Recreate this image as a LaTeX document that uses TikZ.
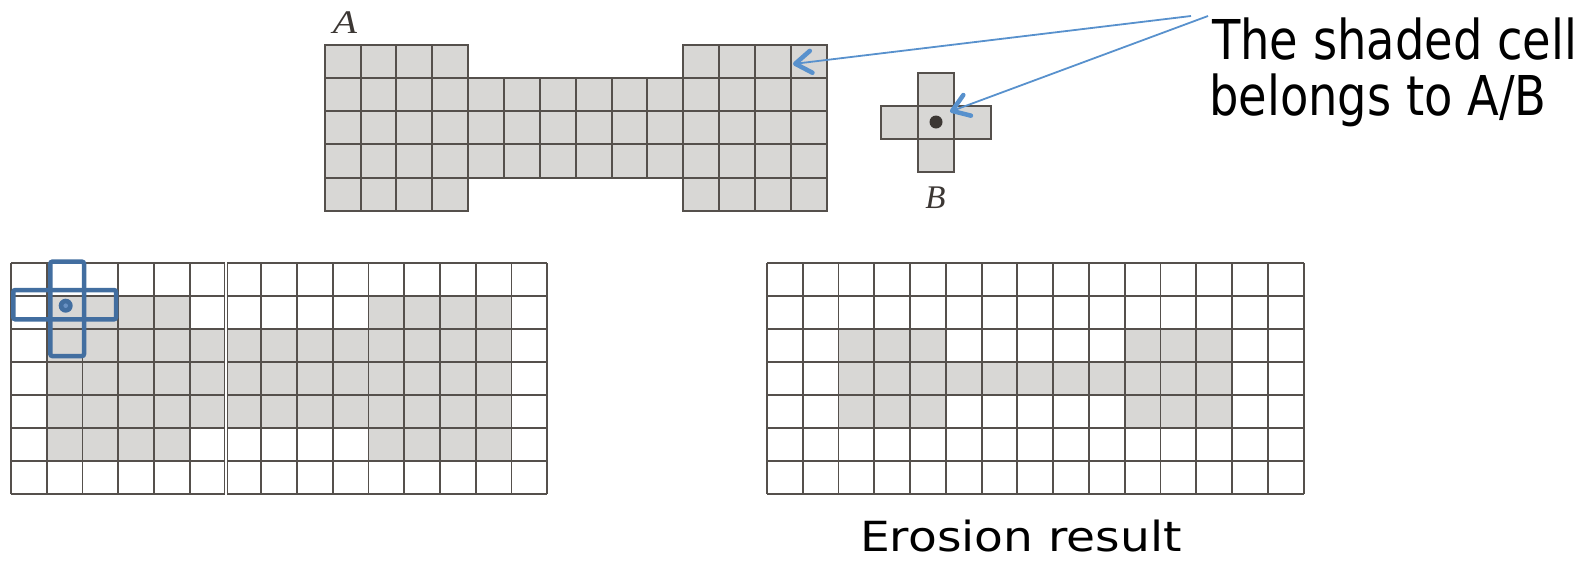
\documentclass[tikz,border=0pt]{standalone}
\usepackage{fontspec}
\usetikzlibrary{arrows.meta}
\newfontfamily\slidefont{DejaVu Sans}
\newfontfamily\labelfont{Liberation Serif}
\definecolor{gridline}{RGB}{85,80,76}
\definecolor{cellfill}{RGB}{216,215,213}
\definecolor{seblue}{RGB}{66,110,160}
\definecolor{seinner}{RGB}{105,145,195}
\definecolor{arrowblue}{RGB}{88,145,205}
\definecolor{textdark}{RGB}{60,55,52}
\begin{document}
\begin{tikzpicture}[x=1pt,y=-1pt,
  acell/.style={draw=gridline,line width=1.9pt,fill=cellfill},
  gridl/.style={draw=gridline,line width=1.9pt},
  shade/.style={fill=cellfill},
  selem/.style={draw=seblue,line width=4.5pt,rounded corners=2pt},
  callout/.style={draw=arrowblue,line width=1.8pt,
    -{Straight Barb[length=16pt,width=22pt,line width=4.5pt 0,round]}},
  slabel/.style={anchor=base,inner sep=0pt,text=textdark,
    font=\labelfont\itshape\fontsize{33}{33}\selectfont},
  slidetext/.style={anchor=base west,inner sep=0pt,text=black}]
\useasboundingbox (0,0) rectangle (1583,563);

% ---------- set A ----------
\def\Ax{324.7}\def\Ay{45}\def\Aw{35.86}\def\Ah{33.14}
\foreach \c in {0,1,2,3,10,11,12,13}
  \foreach \r in {0,...,4}
    \draw[acell] ({\Ax+\c*\Aw},{\Ay+\r*\Ah}) rectangle ++(\Aw,\Ah);
\foreach \c in {4,...,9}
  \foreach \r in {1,2,3}
    \draw[acell] ({\Ax+\c*\Aw},{\Ay+\r*\Ah}) rectangle ++(\Aw,\Ah);
\node[slabel] (labA) at (345,33.3) {\scalebox{1.2}[1]{A}};

% ---------- structuring element B ----------
\def\Bx{917.7}\def\By{106}\def\Bw{36.5}\def\Bh{33.2}
\foreach \dc/\dr in {0/-1,-1/0,0/0,1/0,0/1}
  \draw[acell] ({\Bx+\dc*\Bw},{\By+\dr*\Bh}) rectangle ++(\Bw,\Bh);
\fill[textdark] (936,122) circle (6.5pt);
\node[slabel] (labB) at (935.5,208) {B};

% ---------- left grid: A with B placed ----------
\def\Lx{11}\def\Ly{263.3}\def\Lw{35.75}\def\Lh{32.96}
\foreach \r in {1,5}
  \foreach \c in {1,2,3,4,10,11,12,13}
    \fill[shade] ({\Lx+\c*\Lw},{\Ly+\r*\Lh}) rectangle ++(\Lw,\Lh);
\foreach \r in {2,3,4}
  \foreach \c in {1,...,13}
    \fill[shade] ({\Lx+\c*\Lw},{\Ly+\r*\Lh}) rectangle ++(\Lw,\Lh);
\foreach \j in {0,...,7}
  \draw[gridl] ({\Lx},{\Ly+\j*\Lh}) -- ++({15*\Lw},0);
\foreach \i in {0,1,2,3,4,5,7,8,9,10,11,12,13,14,15}
  \draw[gridl] ({\Lx+\i*\Lw},{\Ly}) -- ++(0,{7*\Lh});
\draw[white,line width=1.1pt] (226,{\Ly-1}) -- (226,{\Ly+7*\Lh+1});
\draw[gridline,line width=1.3pt] (224.6,{\Ly}) -- (224.6,{\Ly+7*\Lh});
\draw[gridline,line width=1.3pt] (227.5,{\Ly}) -- (227.5,{\Ly+7*\Lh});
% blue structuring element
\draw[selem] (50.3,261.7) rectangle (84,356);
\draw[selem] (13.3,290) rectangle (116,319.3);
\fill[seblue] (65.7,305.7) circle (7pt);
\fill[seinner] (65.7,305.7) circle (2.3pt);

% ---------- right grid: erosion result ----------
\def\Rx{767}\def\Ry{263.3}\def\Rw{35.77}\def\Rh{32.96}
\foreach \r in {2,4}
  \foreach \c in {2,3,4,10,11,12}
    \fill[shade] ({\Rx+\c*\Rw},{\Ry+\r*\Rh}) rectangle ++(\Rw,\Rh);
\foreach \c in {2,...,12}
  \fill[shade] ({\Rx+\c*\Rw},{\Ry+3*\Rh}) rectangle ++(\Rw,\Rh);
\foreach \j in {0,...,7}
  \draw[gridl] ({\Rx},{\Ry+\j*\Rh}) -- ++({15*\Rw},0);
\foreach \i in {0,...,15}
  \draw[gridl] ({\Rx+\i*\Rw},{\Ry}) -- ++(0,{7*\Rh});

% ---------- texts ----------
\node[slidetext,font=\slidefont\fontsize{54.9}{56}\selectfont] (t1) at (1212,59.3)
  {\scalebox{0.845}[1]{The shaded cell}};
\node[slidetext,font=\slidefont\fontsize{54.9}{56}\selectfont] (t2) at (1209,115)
  {\scalebox{0.845}[1]{belongs to A/B}};
\node[slidetext,font=\slidefont\fontsize{41.5}{42}\selectfont] (er) at (860,551.7)
  {\scalebox{1.135}[1]{Erosion result}};

% ---------- callout arrows ----------
\coordinate (s1) at (1191,16);
\coordinate (e1) at (793,64);
\coordinate (s2) at (1208,16);
\coordinate (e2) at (950,111.7);
\draw[callout] (s1) -- (e1);
\draw[callout] (s2) -- (e2);
\end{tikzpicture}
\end{document}
